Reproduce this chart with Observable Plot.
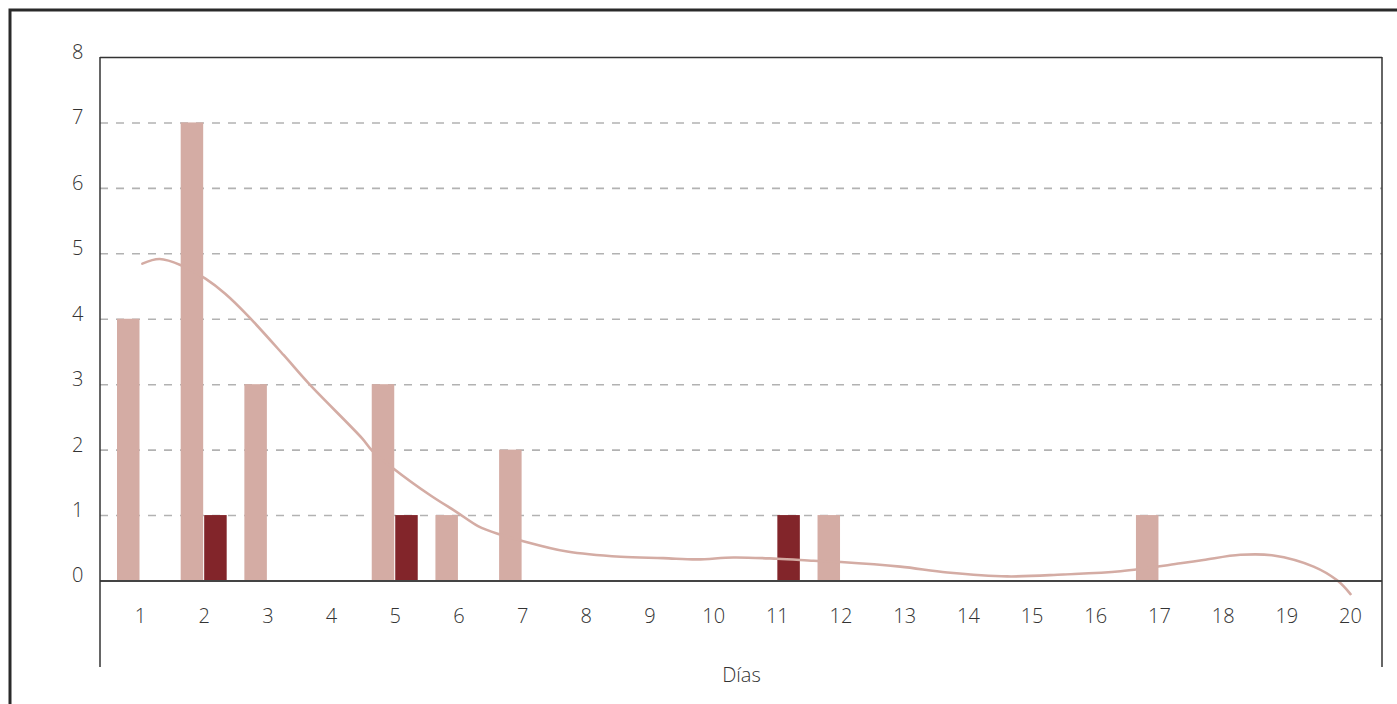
<!DOCTYPE html>
<html>
<head>
<meta charset="utf-8">
<script src="https://cdn.jsdelivr.net/npm/d3@7"></script>
<script src="https://cdn.jsdelivr.net/npm/@observablehq/plot@0.6"></script>
<style>
  html, body { margin: 0; padding: 0; background: #fff; }
  #chart svg { display: block; }
</style>
</head>
<body>
<div id="chart"></div>
<script>
// ---- data ----
const days = [1,2,3,4,5,6,7,8,9,10,11,12,13,14,15,16,17,18,19,20];
const lightValues = [4,7,3,0,3,1,2,0,0,0,0,1,0,0,0,0,1,0,0,0];
const darkValues  = [0,1,0,0,1,0,0,0,0,0,1,0,0,0,0,0,0,0,0,0];
const yTicks = [0,1,2,3,4,5,6,7,8];
const gridValues = [1,2,3,4,5,6,7];
const xLabel = "Días";
// trend curve (day position, value)
const trendDays   = [1.03,1.30,1.65,2.02,2.33,2.68,3.25,3.64,4.48,4.64,4.97,5.55,5.97,6.30,6.65,6.97,7.70,8.54,9.21,9.74,10.31,11.00,11.57,12.00,12.93,13.67,14.61,15.49,16.39,17.33,17.69,18.27,18.79,19.42,19.79,20.00];
const trendValues = [4.85,4.92,4.82,4.62,4.39,4.06,3.45,3.02,2.18,1.99,1.72,1.31,1.05,0.84,0.71,0.62,0.45,0.37,0.35,0.33,0.36,0.34,0.31,0.29,0.22,0.13,0.07,0.10,0.15,0.27,0.32,0.40,0.39,0.22,0.01,-0.20];

const lightColor = "#d4aca4";
const darkColor = "#82252a";
const textColor = "#333333";

const lightData = days.map((d, i) => ({day: d, value: lightValues[i]})).filter(d => d.value > 0);
const darkData = days.map((d, i) => ({day: d, value: darkValues[i]})).filter(d => d.value > 0);
const trend = trendDays.map((d, i) => ({day: d, value: trendValues[i]}));

const W = 1397, H = 704;
const mL = 100, mR = 15, mT = 57, mB = 123.5;
const xRange = [140, 1350];
const step = (xRange[1] - xRange[0]) / (days.length - 1);
const barW = 23;
const half = step / 2;

const plot = Plot.plot({
  width: W,
  height: H,
  marginLeft: mL,
  marginRight: mR,
  marginTop: mT,
  marginBottom: mB,
  style: {fontFamily: "'Open Sans', sans-serif", fontSize: "20px", color: textColor, background: "#fff"},
  x: {type: "linear", domain: [1, 20], range: xRange},
  y: {domain: [0, 8]},
  marks: [
    Plot.ruleY(gridValues, {stroke: "#b2b2b2", strokeWidth: 1.6, strokeDasharray: "8,8"}),
    Plot.rectY(lightData, {x1: d => d.day - 0.5, x2: d => d.day + 0.5, y: "value", fill: lightColor,
      insetLeft: half - barW, insetRight: half + 0.5}),
    Plot.rectY(darkData, {x1: d => d.day - 0.5, x2: d => d.day + 0.5, y: "value", fill: darkColor,
      insetLeft: half + 0.5, insetRight: half - barW}),
    Plot.line(trend, {x: "day", y: "value", stroke: lightColor, strokeWidth: 2.6, curve: "catmull-rom"}),
    Plot.ruleY([0], {stroke: "#444", strokeWidth: 2}),
    Plot.ruleY([8], {stroke: "#333", strokeWidth: 1.5}),
    Plot.axisY(yTicks, {tickSize: 0, tickPadding: 17, dy: -5, fontWeight: 300, tickFormat: d3.format("d"), fill: textColor, label: null}),
    Plot.axisX(days, {tickSize: 0, tickPadding: 28, fontWeight: 300, tickFormat: d3.format("d"), fill: textColor, label: null}),
    Plot.text([xLabel], {frameAnchor: "bottom", dy: 101, fontWeight: 300, fontSize: 20, fill: textColor})
  ]
});

// frame pieces: extended left/right verticals of the plot area and outer border
const svg = d3.select(plot);
const yS = plot.scale("y");
const yTop = yS.apply(8);
const yBottom = 667;
svg.append("line").attr("x1", mL).attr("x2", mL).attr("y1", yTop).attr("y2", yBottom)
  .attr("stroke", "#333").attr("stroke-width", 1.5);
svg.append("line").attr("x1", W - mR).attr("x2", W - mR).attr("y1", yTop).attr("y2", yBottom)
  .attr("stroke", "#333").attr("stroke-width", 1.5);
svg.append("path").attr("d", `M10,${H} L10,10 L${W},10`)
  .attr("fill", "none").attr("stroke", "#2a2a2a").attr("stroke-width", 3);

document.getElementById("chart").appendChild(plot);
</script>
</body>
</html>
